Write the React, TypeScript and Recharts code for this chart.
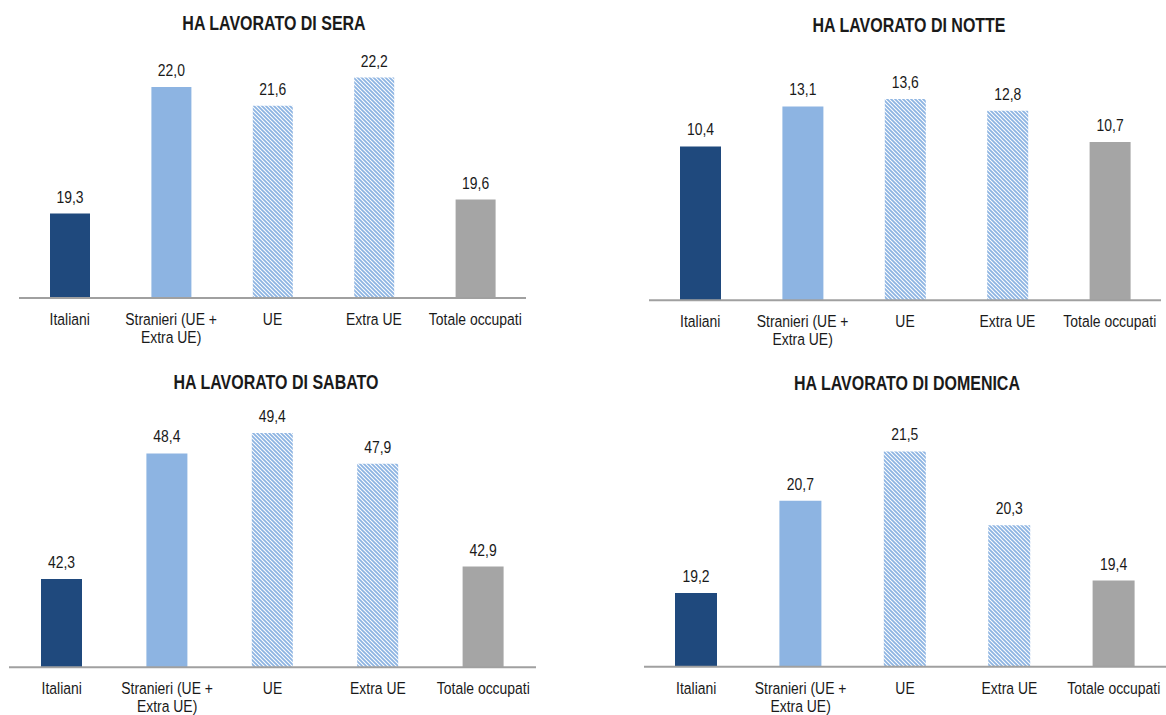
import React from 'react';
import { BarChart, Bar, XAxis, YAxis, Cell, LabelList } from 'recharts';

const categories = ['Italiani', 'Stranieri (UE + Extra UE)', 'UE', 'Extra UE', 'Totale occupati'];
const seraValues = [19.3, 22.0, 21.6, 22.2, 19.6];
const notteValues = [10.4, 13.1, 13.6, 12.8, 10.7];
const sabatoValues = [42.3, 48.4, 49.4, 47.9, 42.9];
const domenicaValues = [19.2, 20.7, 21.5, 20.3, 19.4];
const titles = ['HA LAVORATO DI SERA', 'HA LAVORATO DI NOTTE', 'HA LAVORATO DI SABATO', 'HA LAVORATO DI DOMENICA'];

const FONT = '"Liberation Sans", Arial, sans-serif';
const TEXT = '#1a1a1a';
const NARROW = 0.82;
const fills = ['#1F497D', '#8DB4E2', 'url(#hatchBlue)', 'url(#hatchBlue)', '#A5A5A5'];

const build = (vals: number[]) => categories.map((c, i) => ({ name: c, value: vals[i] }));

const splitLabel = (s: string): string[] => {
  const idx = s.indexOf('+ ');
  if (idx >= 0) return [s.slice(0, idx + 1), s.slice(idx + 2)];
  return [s];
};

const Tick = (props: any) => {
  const { x, y, payload } = props;
  const lines = splitLabel(String(payload.value));
  return (
    <g transform={`translate(${x},${y})`}>
      <text transform={`scale(${NARROW},1)`} x={0} y={0} textAnchor="middle" fill={TEXT} fontSize={17} fontFamily={FONT}>
        {lines.map((l, i) => (
          <tspan key={i} x={0} dy={i === 0 ? 27 : 18}>{l}</tspan>
        ))}
      </text>
    </g>
  );
};

const fmt = (v: any) => Number(v).toFixed(1).replace('.', ',');

const ValueLabel = (props: any) => {
  const { x, y, width, value } = props;
  const cx = Number(x) + Number(width) / 2;
  const by = Number(y) - 11;
  return (
    <g transform={`translate(${cx},${by})`}>
      <text transform={`scale(${NARROW},1)`} x={0} y={0} textAnchor="middle" fill={TEXT} fontSize={17} fontFamily={FONT}>
        {fmt(value)}
      </text>
    </g>
  );
};

type PanelCfg = {
  title: string;
  values: number[];
  domain: [number, number];
  left: number;
  top: number;
  width: number;
  height: number;
  margin: { top: number; left: number; right: number; bottom: number };
  barSize: number;
  titleX: number;
  titleY: number;
};

const panels: PanelCfg[] = [
  {
    title: titles[0], values: seraValues, domain: [17.5, 22.5],
    left: 0, top: 0, width: 580, height: 360,
    margin: { top: 63.5, left: 19, right: 54, bottom: 22 }, barSize: 40,
    titleX: 274, titleY: 23,
  },
  {
    title: titles[1], values: notteValues, domain: [0, 16],
    left: 580, top: 0, width: 586, height: 360,
    margin: { top: 63.5, left: 69, right: 5, bottom: 19.7 }, barSize: 41,
    titleX: 909, titleY: 25,
  },
  {
    title: titles[2], values: sabatoValues, domain: [38, 50],
    left: 0, top: 360, width: 580, height: 355,
    margin: { top: 60.6, left: 9, right: 44, bottom: 7.7 }, barSize: 41,
    titleX: 276, titleY: 382,
  },
  {
    title: titles[3], values: domenicaValues, domain: [18, 22],
    left: 580, top: 360, width: 586, height: 355,
    margin: { top: 60.7, left: 64, right: 0, bottom: 8.3 }, barSize: 42,
    titleX: 907, titleY: 383,
  },
];

const Panel = ({ cfg }: { cfg: PanelCfg }) => (
  <div style={{ position: 'absolute', left: cfg.left, top: cfg.top, width: cfg.width, height: cfg.height }}>
    <BarChart width={cfg.width} height={cfg.height} data={build(cfg.values)} margin={cfg.margin}>
      <XAxis
        dataKey="name"
        interval={0}
        height={40}
        tickLine={false}
        tickSize={0}
        tickMargin={0}
        axisLine={{ stroke: '#A0A0A0', strokeWidth: 2 }}
        tick={<Tick />}
      />
      <YAxis hide domain={cfg.domain} allowDataOverflow />
      <Bar dataKey="value" barSize={cfg.barSize} isAnimationActive={false}>
        {cfg.values.map((_, i) => (
          <Cell key={i} fill={fills[i]} />
        ))}
        <LabelList dataKey="value" content={<ValueLabel />} />
      </Bar>
    </BarChart>
  </div>
);

export default function App() {
  return (
    <div style={{ position: 'absolute', left: 0, top: 0, width: 1166, height: 715, overflow: 'hidden', background: '#fff' }}>
      <svg width={0} height={0} style={{ position: 'absolute' }}>
        <defs>
          <pattern id="hatchBlue" patternUnits="userSpaceOnUse" width={4} height={4}>
            <rect width={4} height={4} fill="#ffffff" />
            <path d="M-1,-1 L5,5 M-1,3 L1,5 M3,-1 L5,1" stroke="#8DB4E2" strokeWidth={1.8} />
          </pattern>
        </defs>
      </svg>
      {panels.map((p, i) => (
        <Panel key={i} cfg={p} />
      ))}
      {panels.map((p, i) => (
        <div
          key={'t' + i}
          style={{
            position: 'absolute', left: p.titleX - 200, width: 400, top: p.titleY - 12,
            textAlign: 'center', fontFamily: FONT, fontWeight: 'bold', fontSize: 19.5,
            lineHeight: '24px', color: TEXT, whiteSpace: 'nowrap',
            transform: `scaleX(${NARROW})`, transformOrigin: 'center',
          }}
        >
          {p.title}
        </div>
      ))}
    </div>
  );
}
